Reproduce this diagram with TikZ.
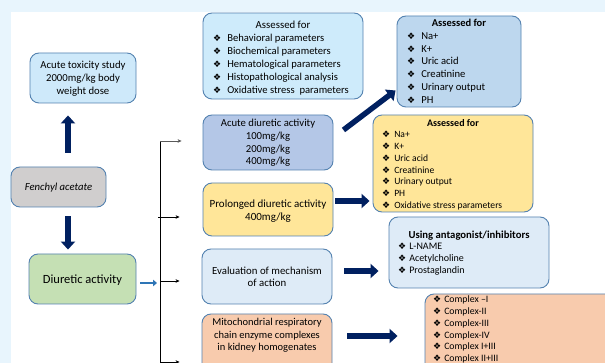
\documentclass[tikz,border=0pt]{standalone}
\usepackage{fontspec}
\setmainfont{Carlito}
\newfontfamily\symfont{DejaVu Sans}
\usetikzlibrary{arrows.meta,fit}
\definecolor{bgblue}{RGB}{232,245,253}
\definecolor{edge}{RGB}{84,130,176}
\definecolor{navy}{RGB}{0,32,96}
\definecolor{midblue}{RGB}{46,117,182}
\definecolor{cToxic}{RGB}{206,233,250}
\definecolor{cGrey}{RGB}{208,206,206}
\definecolor{cGreen}{RGB}{197,224,180}
\definecolor{cAssessA}{RGB}{206,235,251}
\definecolor{cAssessB}{RGB}{189,215,238}
\definecolor{cAcute}{RGB}{180,199,231}
\definecolor{cYellow}{RGB}{255,230,153}
\definecolor{cPale}{RGB}{222,235,247}
\definecolor{cPeach}{RGB}{248,203,173}
\newcommand\bul[1]{{\symfont\fontsize{9}{9}\selectfont ❖}\hspace{#1}}
\tikzset{
  box/.style={draw=edge, line width=0.9pt, rounded corners=9pt, inner sep=0pt},
  txt/.style={align=center, inner sep=0pt, font=\fontsize{10.7}{12.8}\selectfont},
  lst/.style={align=left, inner sep=0pt, anchor=west},
  bigarrow/.style={draw=navy, line width=5.5pt, -{Triangle[length=8pt,width=14pt]}},
  smallarrow/.style={draw=midblue, line width=2.6pt, -{Triangle[length=4pt,width=6.5pt]}},
  thinarrow/.style={draw=black, line width=0.6pt, -{Stealth[length=4pt,width=3.6pt]}}
}
\begin{document}
\begin{tikzpicture}[x=1pt,y=-1pt]
\useasboundingbox (0,0) rectangle (605,363);
\clip (0,0) rectangle (605,363);
\fill[bgblue] (0,0) rectangle (605,363);
\fill[white] (11,12) rectangle (605,363);

% left column
\node[box, fill=cToxic, fit={(30,53) (136,103)}] (tox) {};
\node[txt] (toxt) at (83,79) {Acute toxicity study\\2000mg/kg body\\weight dose};
\node[box, fill=cGrey, fit={(11,167) (106,207)}] (fen) {};
\node[txt, font=\fontsize{10.7}{12}\selectfont\itshape] (fent) at (58.5,188) {Fenchyl acetate};
\node[box, fill=cGreen, fit={(29,254) (136,304)}] (diu) {};
\node[txt, font=\fontsize{12.5}{14}\selectfont] (diut) at (82.5,280) {Diuretic activity};

% middle column
\node[box, fill=cAssessA, fit={(203,13) (363,99)}] (asA) {};
\node[txt, font=\fontsize{10.8}{13}\selectfont] (asAh) at (283,25) {Assessed for};
\node[lst, font=\fontsize{10.6}{13}\selectfont] (asAl) at (213,65) {\bul{6pt}Behavioral parameters\\\bul{6pt}Biochemical parameters\\\bul{6pt}Hematological parameters\\\bul{6pt}Histopathological analysis\\\bul{6pt}Oxidative stress\ \ parameters};

\node[box, fill=cAcute, fit={(203,115) (333,170)}] (acu) {};
\node[txt] (acut) at (268,143) {Acute diuretic activity\\100mg/kg\\200mg/kg\\400mg/kg};
\node[box, fill=cYellow, fit={(203,183) (333,236)}] (pro) {};
\node[txt, font=\fontsize{11}{12.8}\selectfont] (prot) at (268,211.5) {Prolonged diuretic activity\\400mg/kg};
\node[box, fill=cPale, fit={(202,249) (332,304)}] (eva) {};
\node[txt, font=\fontsize{10.8}{12.5}\selectfont] (evat) at (267,277) {Evaluation of mechanism\\of action};
\node[box, fill=cPeach, fit={(202,314) (332,380)}] (mit) {};
\node[txt, font=\fontsize{10.5}{12.5}\selectfont] (mitt) at (267,335.5) {Mitochondrial respiratory\\chain enzyme complexes\\in kidney homogenates};

% right column
\node[box, fill=cAssessB, fit={(397,16) (521,107)}] (asB) {};
\node[txt, font=\fontsize{10.5}{13}\selectfont\bfseries] (asBh) at (459,23) {Assessed for};
\node[lst, font=\fontsize{10.6}{12.8}\selectfont] (asBl) at (407,68) {\bul{6pt}Na+\\\bul{6pt}K+\\\bul{6pt}Uric acid\\\bul{6pt}Creatinine\\\bul{6pt}Urinary output\\\bul{6pt}PH};

\node[box, fill=cYellow, fit={(373,115) (533,212)}] (yel) {};
\node[txt, font=\fontsize{10}{12}\selectfont\bfseries] (yelh) at (453,123) {Assessed for};
\node[lst, font=\fontsize{9.6}{11.8}\selectfont] (yell) at (382,170.5) {\bul{4pt}Na+\\\bul{4pt}K+\\\bul{4pt}Uric acid\\\bul{4pt}Creatinine\\\bul{4pt}Urinary output\\\bul{4pt}PH\\\bul{4pt}Oxidative stress parameters};

\node[box, fill=cPale, fit={(389,217) (549,288)}] (ant) {};
\node[txt, font=\fontsize{10.7}{12}\selectfont\bfseries] (anth) at (469,236) {Using antagonist/inhibitors};
\node[lst, font=\fontsize{10}{12}\selectfont] (antl) at (398,259) {\bul{3pt}L-NAME\\\bul{3pt}Acetylcholine\\\bul{3pt}Prostaglandin};

\node[box, fill=cPeach, fit={(425,294) (630,390)}] (cpx) {};
\node[lst, font=\fontsize{9.8}{11.8}\selectfont] (cpxl) at (433,329.5) {\bul{3pt}Complex --I\\\bul{3pt}Complex-II\\\bul{3pt}Complex-III\\\bul{3pt}Complex-IV\\\bul{3pt}Complex I+III\\\bul{3pt}Complex II+III};

% trunk and branches
\coordinate (t1) at (160,141);
\coordinate (t2) at (160,217);
\coordinate (t3) at (160,281);
\coordinate (t4) at (160,362);
\coordinate (tb) at (160,370);
\draw[black, line width=0.6pt] (t1) -- (tb);
\draw[thinarrow, draw=gray!70!black] (t1) -- ([xshift=-21pt]t1 -| acu.west);
\draw[thinarrow] ([xshift=-2pt]t2) -- ([xshift=-23pt]t2 -| pro.west);
\draw[thinarrow] (t3) -- ([xshift=-22pt]t3 -| eva.west);
\draw[thinarrow] (t4) -- ([xshift=-22pt]t4 -| mit.west);

% arrows
\draw[bigarrow] ([xshift=9.5pt,yshift=14pt]fen.north) -- ([xshift=-15pt,yshift=-12pt]tox.south);
\draw[bigarrow] ([xshift=9.5pt,yshift=-9pt]fen.south) -- ([xshift=-14.5pt,yshift=4pt]diu.north);
\draw[smallarrow] ([xshift=4pt,yshift=-4pt]diu.east) coordinate (d1) -- ([xshift=-3pt]d1 -| t3);
\draw[bigarrow] ([xshift=10pt,yshift=12.5pt]acu.east) -- ([xshift=-1pt,yshift=-29pt]asB.west);
\draw[bigarrow] ([xshift=2pt,yshift=8.5pt]pro.east) coordinate (p1) -- ([xshift=-3pt]p1 -| yel.west);
\draw[bigarrow] ([xshift=12pt,yshift=5.5pt]eva.east) coordinate (e1) -- ([xshift=-10pt]e1 -| ant.west);
\draw[bigarrow] ([xshift=15pt,yshift=11pt]mit.east) coordinate (m1) -- ([xshift=-27pt]m1 -| cpx.west);
\end{tikzpicture}
\end{document}
